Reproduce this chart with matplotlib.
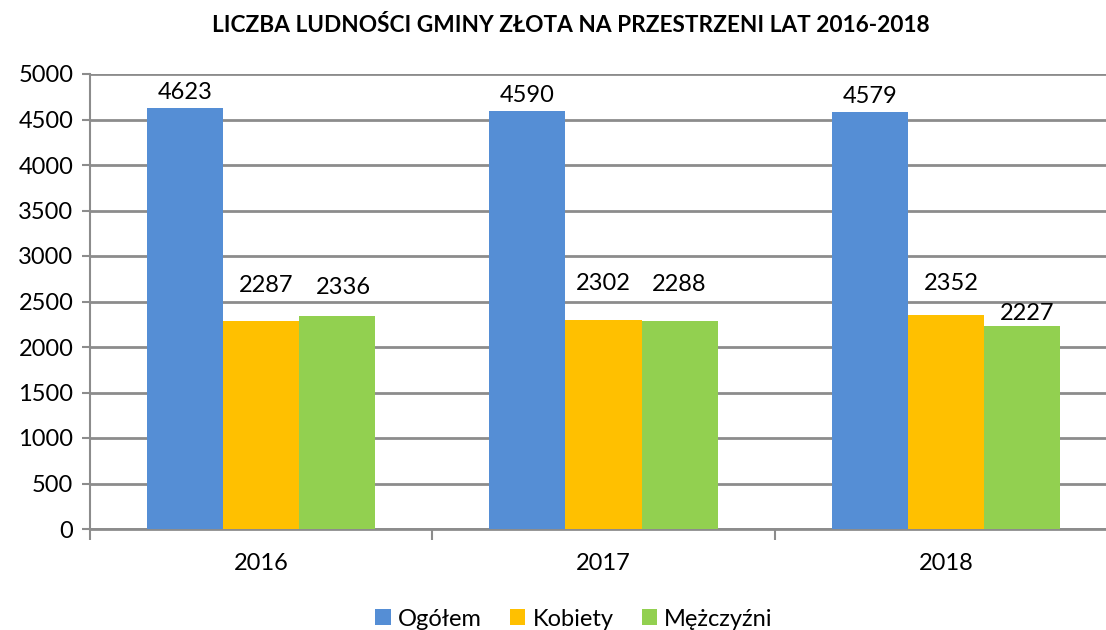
import matplotlib
matplotlib.use("Agg")
import matplotlib.pyplot as plt
import numpy as np

years = ["2016", "2017", "2018"]
series_names = ["Ogółem", "Kobiety", "Mężczyźni"]
ogolem = [4623, 4590, 4579]
kobiety = [2287, 2302, 2352]
mezczyzni = [2336, 2288, 2227]
colors = ["#558ED5", "#FFC000", "#92D050"]
title = "LICZBA LUDNOŚCI GMINY ZŁOTA NA PRZESTRZENI LAT 2016-2018"

# label offsets (pixels) from bar top, as manually placed in the original
label_dy = [[9, 9, 9], [29, 30, 25], [22, 30, 6]]
label_dx = [[0, 0, 0], [5, 0, 5], [6, 0, 5]]

plt.rcParams['font.family'] = ['Lato', 'DejaVu Sans']

W, H = 1106, 630
fig = plt.figure(figsize=(W / 100, H / 100), dpi=100)
ax = fig.add_axes([90 / W, 101 / H, 1027 / W, 455 / H])

x = np.arange(len(years))
bw = 1 / 4.5
values = [ogolem, kobiety, mezczyzni]
handles = []
for i, (vals, c, name) in enumerate(zip(values, colors, series_names)):
    pos = x + (i - 1) * bw
    b = ax.bar(pos, vals, width=bw, color=c, label=name, zorder=3)
    handles.append(b)
    for j, (px, v) in enumerate(zip(pos, vals)):
        ax.annotate(str(v), (px, v), xytext=(label_dx[i][j], label_dy[i][j]),
                    textcoords='offset pixels', ha='center', va='baseline',
                    fontsize=17, color='black', zorder=4)

ax.set_xlim(-0.5, len(years) - 0.5)
ax.set_ylim(0, 5000)
ax.set_yticks(np.arange(0, 5001, 500))
ax.yaxis.grid(True, color='#8c8c8c', linewidth=2, zorder=0)
ax.set_axisbelow(True)

ax.set_xticks(x)
ax.set_xticklabels(years)
ax.set_xticks(np.arange(-0.5, len(years), 1), minor=True)
ax.tick_params(axis='x', which='major', length=0, pad=17, labelsize=17)
ax.tick_params(axis='x', which='minor', length=8, width=1.5, color='#8c8c8c')
ax.tick_params(axis='y', length=6, width=1.5, color='#8c8c8c', labelsize=17, pad=6)

for s in ['top', 'right']:
    ax.spines[s].set_visible(False)
ax.spines['left'].set_color('#8c8c8c')
ax.spines['left'].set_linewidth(1.5)
ax.spines['bottom'].set_color('#8c8c8c')
ax.spines['bottom'].set_linewidth(2)

fig.text(571 / W, 1 - 26 / H, title, ha='center', va='center', fontsize=16.3, fontweight='bold')

fig.legend(handles=handles, labels=series_names, loc='center', bbox_to_anchor=(574 / W, 1 - 619 / H),
           ncol=3, frameon=False, fontsize=17, handlelength=0.65, handleheight=0.65,
           handletextpad=0.3, columnspacing=1.2)

fig.savefig("out.png", dpi=100)
